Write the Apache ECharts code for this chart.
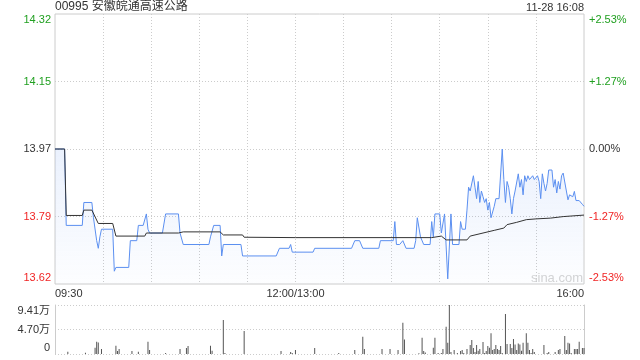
<!DOCTYPE html>
<html><head><meta charset="utf-8">
<script src="https://cdn.jsdelivr.net/npm/echarts@6/dist/echarts.min.js"></script>
<style>html,body{margin:0;padding:0;background:#fff}#c{width:640px;height:360px}</style>
</head><body><div id="c"></div>
<script>
const title = '00995 安徽皖通高速公路';
const stamp = '11-28 16:08';
const prevClose = 13.97;
const priceTicks = ['13.62','13.79','13.97','14.15','14.32'];
const pctTicks = ['-2.53%','-1.27%','0.00%','+1.27%','+2.53%'];
const volTicks = ['0','4.70万','9.41万'];
const timeLabels = {0:'09:30',150:'12:00/13:00',330:'16:00'};

const priceTimes = [0,6,7,17,18,23,24,26,27,28,29,36,37,38,46,47,51,52,55,57,58,59,67,69,77,78,80,96,97,98,99,103,104,105,116,117,138,140,146,147,148,161,162,185,187,190,192,202,203,211,212,213,215,217,219,224,225,226,228,230,234,235,236,237,240,241,243,245,247,248,252,253,254,256,257,258,259,260,261,262,263,264,265,266,267,268,269,270,271,272,273,274,275,276,277,278,279,280,281,282,283,284,285,286,287,288,289,290,291,292,293,294,295,296,297,298,299,300,301,302,303,304,305,306,307,308,309,310,311,312,313,314,315,316,317,318,319,320,321,322,323,324,325,326,327,328,329,330];
const priceValues = [13.97,13.97,13.77,13.77,13.83,13.83,13.79,13.73,13.71,13.74,13.76,13.76,13.65,13.66,13.66,13.73,13.73,13.77,13.77,13.80,13.76,13.75,13.75,13.80,13.80,13.75,13.72,13.72,13.74,13.74,13.77,13.77,13.69,13.72,13.72,13.69,13.69,13.71,13.71,13.72,13.70,13.70,13.71,13.71,13.73,13.73,13.71,13.71,13.73,13.73,13.78,13.72,13.72,13.73,13.71,13.71,13.73,13.79,13.74,13.72,13.72,13.78,13.74,13.80,13.80,13.75,13.80,13.63,13.80,13.72,13.72,13.78,13.76,13.76,13.81,13.87,13.86,13.855,13.90,13.87,13.84,13.885,13.83,13.86,13.845,13.83,13.84,13.81,13.83,13.79,13.79,13.82,13.84,13.835,13.84,13.84,13.97,13.89,13.83,13.885,13.87,13.84,13.80,13.84,13.86,13.855,13.905,13.87,13.89,13.85,13.90,13.885,13.90,13.89,13.89,13.90,13.89,13.89,13.90,13.885,13.84,13.905,13.88,13.86,13.88,13.915,13.918,13.915,13.87,13.89,13.855,13.885,13.865,13.90,13.907,13.907,13.86,13.837,13.85,13.85,13.845,13.859,13.835,13.84,13.835,13.83,13.825,13.82];

const avgTimes = [0,6,7,17,18,23,27,36,38,56,57,77,80,103,105,117,118,150,235,241,244,257,259,267,274,280,282,288,294,300,309,317,330];
const avgValues = [13.97,13.97,13.796,13.796,13.81,13.81,13.775,13.775,13.742,13.742,13.75,13.75,13.753,13.753,13.745,13.745,13.739,13.738,13.738,13.742,13.732,13.732,13.742,13.75,13.757,13.763,13.772,13.778,13.785,13.787,13.789,13.793,13.797];

const volTimes = [8,19,25,26,27,29,38,39,40,48,52,58,59,69,78,82,83,97,98,105,106,118,141,147,148,150,162,177,187,192,193,204,209,214,217,218,227,229,230,231,236,237,239,241,242,244,245,246,247,249,251,253,254,255,257,259,260,261,262,263,264,265,267,268,269,270,271,272,273,274,275,276,277,278,279,281,282,284,285,286,287,288,289,290,291,292,294,295,296,297,298,299,305,307,308,312,314,315,318,319,320,321,322,324,325,326,327,329,330];
const volValues = [0.45,0.25,1.2,2.37,2.2,0.96,1.6,0.6,0.96,0.58,0.45,2.37,0.77,0.2,0.96,1.15,1.54,1.6,0.64,6.53,0.2,4.42,0.58,0.38,0.2,0.77,1.15,0.2,0.77,3.3,0.96,0.96,0.96,0.77,6.0,2.8,0.15,3.13,0.58,0.3,1.2,3.13,0.2,0.2,0.96,5.24,2.17,9.41,0.4,0.77,0.2,0.58,0.77,0.2,0.96,1.73,2.69,1.15,0.4,1.73,0.64,0.96,2.3,0.2,0.58,1.54,1.2,4.0,0.77,0.96,1.73,0.96,0.77,1.54,0.2,7.68,1.92,1.92,1.15,2.88,1.83,0.77,2.0,1.83,0.64,2.17,4.0,2.17,0.77,0.2,0.96,0.4,1.73,0.2,0.4,0.4,0.77,0.96,3.46,0.77,2.17,2.0,0.2,0.96,0.96,0.96,2.37,1.15,1.15];

const toPct = p => (p / prevClose - 1) * 100;
const priceData = priceTimes.map((t, i) => [t, toPct(priceValues[i])]);
const avgData = avgTimes.map((t, i) => [t, toPct(avgValues[i])]);
const volData = volTimes.map((t, i) => [t, volValues[i]]);

const FONT = '"Liberation Sans", Arial, "Noto Sans CJK SC", sans-serif';
const GREEN = '#21a021', RED = '#f02424', DARK = '#333';
const priceColors = ['r', 'r', 'k', 'g', 'g'];
const richBase = {
  g: {color: GREEN, fontSize: 11, fontFamily: FONT},
  r: {color: RED, fontSize: 11, fontFamily: FONT},
  k: {color: DARK, fontSize: 11, fontFamily: FONT},
  gT: {color: GREEN, fontSize: 11, fontFamily: FONT, padding: [12, 0, 0, 0]},
  rB: {color: RED, fontSize: 11, fontFamily: FONT, padding: [0, 0, 12, 0]},
  kT: {color: DARK, fontSize: 11, fontFamily: FONT, padding: [12, 0, 0, 0]},
  kB: {color: DARK, fontSize: 11, fontFamily: FONT, padding: [0, 0, 12, 0]}
};
function styleKey(i, n, c) {
  if (i === 0) return c + 'B';
  if (i === n - 1) return c + 'T';
  return c;
}
const dotted = {show: true, lineStyle: {color: '#ccc', type: [1, 2], width: 1}};

const chart = echarts.init(document.getElementById('c'), null, {renderer: 'canvas'});
chart.setOption({
  animation: false,
  textStyle: {fontFamily: FONT},
  grid: [
    {left: 55, right: 56, top: 14, height: 270, show: true, borderColor: '#ccc', borderWidth: 1},
    {left: 55, right: 56, top: 305, height: 49}
  ],
  xAxis: [
    {gridIndex: 0, type: 'value', min: 0, max: 330, interval: 30,
     axisLine: {show: false}, axisTick: {show: false},
     axisLabel: {show: true, margin: 4, color: DARK, fontSize: 11, fontFamily: FONT,
       alignMinLabel: 'left', alignMaxLabel: 'right',
       formatter: v => timeLabels[v] || ''},
     splitLine: Object.assign({showMinLine: false, showMaxLine: false}, dotted)},
    {gridIndex: 1, type: 'value', min: 0, max: 330, interval: 30,
     axisLine: {show: false}, axisTick: {show: false}, axisLabel: {show: false}, splitLine: {show: false}}
  ],
  yAxis: [
    {gridIndex: 0, type: 'value', min: -2.53, max: 2.53, interval: 1.265, position: 'left',
     axisLine: {show: false}, axisTick: {show: false},
     axisLabel: {margin: 4, rich: richBase,
       formatter: (v, i) => '{' + styleKey(i, 5, priceColors[i]) + '|' + priceTicks[i] + '}'},
     splitLine: Object.assign({showMinLine: false, showMaxLine: false}, dotted)},
    {gridIndex: 0, type: 'value', min: -2.53, max: 2.53, interval: 1.265, position: 'right',
     axisLine: {show: false}, axisTick: {show: false}, splitLine: {show: false},
     axisLabel: {margin: 5, align: 'left', rich: richBase,
       formatter: (v, i) => '{' + styleKey(i, 5, priceColors[i]) + '|' + pctTicks[i] + '}'}},
    {gridIndex: 1, type: 'value', min: 0, max: 9.41, interval: 4.705, position: 'left',
     axisLine: {show: true, lineStyle: {color: '#ccc'}}, axisTick: {show: false},
     axisLabel: {margin: 5, rich: richBase,
       formatter: (v, i) => '{' + styleKey(i, 3, 'k') + '|' + volTicks[i] + '}'},
     splitLine: dotted},
    {gridIndex: 1, type: 'value', min: 0, max: 9.41, interval: 4.705, position: 'right',
     axisLine: {show: true, lineStyle: {color: '#ccc'}}, axisTick: {show: false},
     axisLabel: {show: false}, splitLine: {show: false}}
  ],
  series: [
    {type: 'line', xAxisIndex: 0, yAxisIndex: 0, data: priceData, symbol: 'none',
     lineStyle: {color: '#5b8ff0', width: 1},
     areaStyle: {origin: 'start', color: new echarts.graphic.LinearGradient(0, 0, 0, 1, [
       {offset: 0, color: 'rgba(91,143,240,0.18)'}, {offset: 1, color: 'rgba(91,143,240,0.02)'}])},
     z: 3},
    {type: 'line', xAxisIndex: 0, yAxisIndex: 0, data: avgData, symbol: 'none',
     lineStyle: {color: '#333', width: 1}, z: 4},
    {type: 'bar', xAxisIndex: 1, yAxisIndex: 2, data: volData, barWidth: 1,
     itemStyle: {color: '#555'}}
  ],
  graphic: [
    {type: 'text', left: 55, top: 1, style: {text: title, font: '12px ' + FONT, fill: DARK}},
    {type: 'text', right: 56, top: 2, style: {text: stamp, font: '11px ' + FONT, fill: DARK}},
    {type: 'text', left: 531, top: 272, style: {text: 'sina.com', font: '13px ' + FONT, fill: '#d4d4d4'}, z: 0}
  ]
});
</script></body></html>
